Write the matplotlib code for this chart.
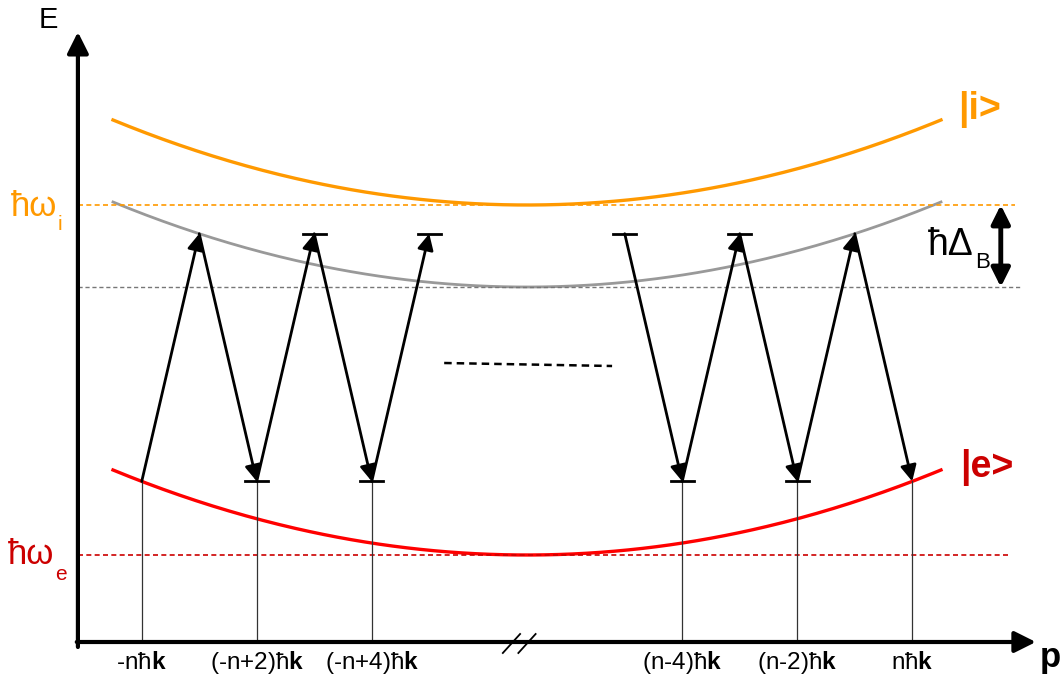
import numpy as np
import matplotlib.pyplot as plt

plt.rcParams['font.family'] = ['Liberation Sans', 'DejaVu Sans']
plt.rcParams['mathtext.fontset'] = 'custom'
plt.rcParams['mathtext.rm'] = 'Liberation Sans'
plt.rcParams['mathtext.bf'] = 'Liberation Sans:bold'

# momentum in units of hbar*k (schematic, axis broken in the middle)
p_lower = [-6.7, -4.7, -2.7, 2.7, 4.7, 6.7]
p_upper = [-5.7, -3.7, -1.7, 1.7, 3.7, 5.7]
p_labels = [r'-nħ$\mathbf{k}$', r'(-n+2)ħ$\mathbf{k}$', r'(-n+4)ħ$\mathbf{k}$',
            r'(n-4)ħ$\mathbf{k}$', r'(n-2)ħ$\mathbf{k}$', r'nħ$\mathbf{k}$']
# energy levels (arbitrary units)
E_i = 475
E_virt = 393
E_e = 125
curv = 1.64
p_max = 7.2

orange = '#FF9900'
red_line = '#FF0000'
red_txt = '#CC0000'
grey = '#999999'

fig = plt.figure(figsize=(10.63, 6.8), dpi=100)
ax = fig.add_axes([0, 0, 1, 1])
ax.set_xlim(-9.165, 9.322)
ax.set_ylim(0, 680)
ax.axis('off')

def band(p, E0):
    return E0 + curv * np.asarray(p) ** 2

p = np.linspace(-p_max, p_max, 300)
ax.plot(p, band(p, E_i), color=orange, lw=2.4)
ax.plot(p, band(p, E_virt), color=grey, lw=2.0)
ax.plot(p, band(p, E_e), color=red_line, lw=2.4)

x0 = -7.81
ax.plot([x0, 8.49], [E_i, E_i], color=orange, lw=1.2, ls=(0, (3, 2)))
ax.plot([x0, 8.61], [E_virt, E_virt], color='#777777', lw=1.0, ls=(0, (3, 2)))
ax.plot([x0, 8.40], [E_e, E_e], color=red_txt, lw=1.2, ls=(0, (3, 2)))

# axes with arrows
ax.annotate('', xy=(x0, 648), xytext=(x0, 33),
            arrowprops=dict(arrowstyle='-|>', color='black', lw=3, mutation_scale=32, shrinkA=0, shrinkB=0))
ax.annotate('', xy=(8.85, 38), xytext=(x0 - 0.02, 38),
            arrowprops=dict(arrowstyle='-|>', color='black', lw=3, mutation_scale=32, shrinkA=0, shrinkB=0))
ax.text(-8.33, 660, 'E', fontsize=21, ha='center', va='center')
ax.text(9.1, 22, 'p', fontsize=25, fontweight='bold', ha='center', va='center')

# axis break
for dx in (-0.22, 0.05):
    ax.plot([-0.2 + dx, 0.1 + dx], [27, 46], color='black', lw=1.3)

lo = band(p_lower[0], E_e)
hi = band(p_upper[0], E_virt)

# vertical state markers and tick labels
for pp, lab in zip(p_lower, p_labels):
    ax.plot([pp, pp], [38, lo], color='#333333', lw=0.9)
    ax.text(pp, 17, lab, fontsize=17.5, ha='center', va='center')

# horizontal bars
bw = 0.2
for pp in p_lower[1:-1]:
    ax.plot([pp - bw, pp + bw], [lo, lo], color='black', lw=2)
for pp in p_upper[1:-1]:
    ax.plot([pp - bw, pp + bw], [hi, hi], color='black', lw=2)

# transitions
def arrow(a, b):
    ax.annotate('', xy=b, xytext=a,
                arrowprops=dict(arrowstyle='-|>', color='black', lw=2, mutation_scale=24, shrinkA=0, shrinkB=0))

for k in range(3):
    arrow((p_lower[k], lo), (p_upper[k], hi))
for k in range(2):
    arrow((p_upper[k], hi), (p_lower[k + 1], lo))
for k in range(3):
    arrow((p_upper[3 + k], hi), (p_lower[3 + k], lo))
for k in range(2):
    arrow((p_lower[3 + k], lo), (p_upper[4 + k], hi))

ax.plot([-1.44, 1.48], [317, 314], color='black', lw=1.8, ls=(0, (3, 2)))

# Delta_B arrow
ax.annotate('', xy=(8.24, E_virt), xytext=(8.24, E_i),
            arrowprops=dict(arrowstyle='<|-|>', color='black', lw=3.5, mutation_scale=28, shrinkA=0, shrinkB=0))
ax.text(7.37, 435, 'ħΔ', fontsize=27, ha='center', va='center')
ax.text(7.79, 417, 'B', fontsize=16, ha='left', va='center')

# level labels
ax.text(-8.58, 473, 'ħω', fontsize=25, color=orange, ha='center', va='center')
ax.text(-8.12, 456, 'i', fontsize=15, color=orange, ha='center', va='center')
ax.text(-8.62, 126, 'ħω', fontsize=25, color=red_txt, ha='center', va='center')
ax.text(-8.11, 106, 'e', fontsize=15, color=red_txt, ha='center', va='center')
ax.text(7.49, 570, '|i>', fontsize=27, fontweight='bold', color=orange, ha='left', va='center')
ax.text(7.53, 213, '|e>', fontsize=27, fontweight='bold', color=red_txt, ha='left', va='center')

fig.savefig('out.png', dpi=100)
